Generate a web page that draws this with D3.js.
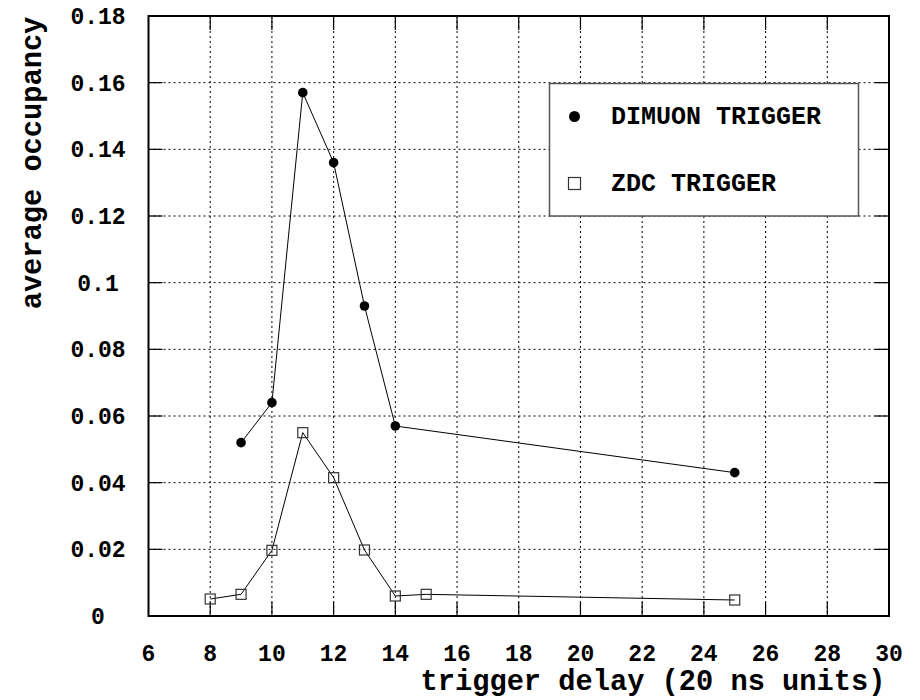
<!DOCTYPE html>
<html>
<head>
<meta charset="utf-8">
<script src="https://cdn.jsdelivr.net/npm/d3@7"></script>
<style>
  html, body { margin: 0; padding: 0; background: #fff; }
</style>
</head>
<body>
<svg id="chart" width="920" height="700"></svg>
<script>
const dimuonX = [9, 10, 11, 12, 13, 14, 25];
const dimuonY = [0.052, 0.064, 0.157, 0.136, 0.093, 0.057, 0.043];
const zdcX = [8, 9, 10, 11, 12, 13, 14, 15, 25];
const zdcY = [0.0051, 0.0065, 0.0197, 0.055, 0.0415, 0.0198, 0.006, 0.0065, 0.0048];
const xTicks = [6, 8, 10, 12, 14, 16, 18, 20, 22, 24, 26, 28, 30];
const yTicks = [0, 0.02, 0.04, 0.06, 0.08, 0.1, 0.12, 0.14, 0.16, 0.18];
const yTickLabels = ["0", "0.02", "0.04", "0.06", "0.08", "0.1", "0.12", "0.14", "0.16", "0.18"];
const legendLabels = ["DIMUON TRIGGER", "ZDC TRIGGER"];
const xTitle = "trigger delay (20 ns units)";
const yTitle = "average occupancy";

const FONT = "'Liberation Mono'";
const svg = d3.select("#chart");
const L = 148.5, R = 889, T = 16, B = 616;
const x = d3.scaleLinear().domain([6, 30]).range([L, R]);
const y = d3.scaleLinear().domain([0, 0.18]).range([B, T]);

const grid = svg.append("g");
grid.selectAll("line.gx").data(xTicks.slice(1, -1)).enter().append("line")
  .attr("x1", d => x(d)).attr("x2", d => x(d)).attr("y1", T).attr("y2", B)
  .attr("stroke", "#000").attr("stroke-width", 1).attr("stroke-dasharray", "2,3");
grid.selectAll("line.gy").data(yTicks.slice(1, -1)).enter().append("line")
  .attr("y1", d => y(d)).attr("y2", d => y(d)).attr("x1", L).attr("x2", R)
  .attr("stroke", "#000").attr("stroke-width", 1).attr("stroke-dasharray", "2,3");

const tl = 14;
const ticks = svg.append("g").attr("stroke", "#000").attr("stroke-width", 1.2);
xTicks.slice(1, -1).forEach(d => {
  ticks.append("line").attr("x1", x(d)).attr("x2", x(d)).attr("y1", B).attr("y2", B - tl);
  ticks.append("line").attr("x1", x(d)).attr("x2", x(d)).attr("y1", T).attr("y2", T + tl);
});
yTicks.slice(1, -1).forEach(d => {
  ticks.append("line").attr("y1", y(d)).attr("y2", y(d)).attr("x1", L).attr("x2", L + tl);
  ticks.append("line").attr("y1", y(d)).attr("y2", y(d)).attr("x1", R).attr("x2", R - tl);
});

svg.append("rect").attr("x", L).attr("y", T).attr("width", R - L).attr("height", B - T)
  .attr("fill", "none").attr("stroke", "#000").attr("stroke-width", 2);

function txt(sel) { return sel.style("font-family", FONT).style("font-weight", "bold").attr("fill", "#000"); }

txt(svg.append("g").selectAll("text").data(xTicks).enter().append("text"))
  .attr("x", d => x(d)).attr("y", 661).attr("text-anchor", "middle")
  .style("font-size", "23px").text(d => d);
txt(svg.append("g").selectAll("text").data(yTicks).enter().append("text"))
  .attr("x", 98).attr("y", d => y(d) + 8).attr("text-anchor", "middle")
  .style("font-size", "23px").text((d, i) => yTickLabels[i]);

txt(svg.append("text")).attr("x", 653).attr("y", 690).attr("text-anchor", "middle")
  .style("font-size", "28.7px").text(xTitle);
txt(svg.append("text")).attr("transform", "translate(41,163) rotate(-90)")
  .attr("text-anchor", "middle").style("font-size", "28.7px").text(yTitle);

const line = d3.line().x(d => x(d[0])).y(d => y(d[1]));
const dim = dimuonX.map((d, i) => [d, dimuonY[i]]);
const zdc = zdcX.map((d, i) => [d, zdcY[i]]);
svg.append("path").attr("d", line(dim)).attr("fill", "none").attr("stroke", "#000").attr("stroke-width", 1);
svg.append("path").attr("d", line(zdc)).attr("fill", "none").attr("stroke", "#000").attr("stroke-width", 1);
svg.append("g").selectAll("circle").data(dim).enter().append("circle")
  .attr("cx", d => x(d[0])).attr("cy", d => y(d[1])).attr("r", 4.8).attr("fill", "#000");
svg.append("g").selectAll("rect").data(zdc).enter().append("rect")
  .attr("x", d => x(d[0]) - 5).attr("y", d => y(d[1]) - 5).attr("width", 10).attr("height", 10)
  .attr("fill", "none").attr("stroke", "#333").attr("stroke-width", 1.2);

const lg = svg.append("g");
lg.append("rect").attr("x", 549.5).attr("y", 83.5).attr("width", 309).attr("height", 132.5)
  .attr("fill", "#fff").attr("stroke", "#555").attr("stroke-width", 1.5);
lg.append("circle").attr("cx", 574.5).attr("cy", 116.5).attr("r", 5.5).attr("fill", "#000");
lg.append("rect").attr("x", 568.5).attr("y", 177.5).attr("width", 12).attr("height", 12)
  .attr("fill", "none").attr("stroke", "#333").attr("stroke-width", 1.2);
txt(lg.append("text")).attr("x", 611).attr("y", 124).style("font-size", "25px").text(legendLabels[0]);
txt(lg.append("text")).attr("x", 611).attr("y", 191).style("font-size", "25px").text(legendLabels[1]);
</script>
</body>
</html>
